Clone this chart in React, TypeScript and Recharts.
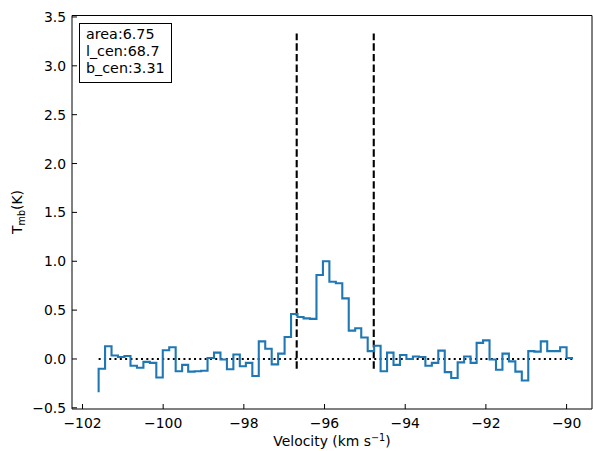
import React from "react";
import {
  ComposedChart,
  Line,
  XAxis,
  YAxis,
  ReferenceLine,
  ReferenceArea,
} from "recharts";

// channel edges (km/s) and main-beam temperature (K), steps drawn "pre"
const velocity = [
  -101.6, -101.44, -101.28, -101.12, -100.96, -100.81, -100.65, -100.49, -100.33, -100.17,
  -100.01, -99.85, -99.69, -99.53, -99.38, -99.22, -99.06, -98.9, -98.74, -98.58,
  -98.42, -98.26, -98.1, -97.95, -97.79, -97.63, -97.47, -97.31, -97.15, -96.99,
  -96.83, -96.67, -96.52, -96.36, -96.2, -96.04, -95.88, -95.72, -95.56, -95.4,
  -95.24, -95.09, -94.93, -94.77, -94.61, -94.45, -94.29, -94.13, -93.97, -93.81,
  -93.66, -93.5, -93.34, -93.18, -93.02, -92.86, -92.7, -92.54, -92.38, -92.23,
  -92.07, -91.91, -91.75, -91.59, -91.43, -91.27, -91.11, -90.95, -90.8, -90.64,
  -90.48, -90.32, -90.16, -90.0, -89.84,
];
const tmb = [
  -0.34, -0.1, 0.13, 0.035, 0.02, 0.03, -0.07, -0.09, -0.03, -0.04,
  -0.19, 0.09, 0.12, -0.125, -0.06, -0.13, -0.125, -0.12, 0.01, 0.065,
  -0.005, -0.105, 0.045, -0.075, -0.04, -0.175, 0.18, 0.105, -0.055, 0.055,
  0.225, 0.46, 0.43, 0.415, 0.41, 0.86, 1.0, 0.79, 0.775, 0.62,
  0.29, 0.315, 0.22, 0.08, 0.135, -0.125, 0.065, -0.06, 0.04, 0.0,
  0.025, 0.02, -0.07, -0.04, 0.085, -0.135, -0.195, -0.035, 0.025, -0.04,
  0.165, 0.19, -0.005, -0.11, 0.055, -0.025, -0.13, -0.22, 0.08, 0.075,
  0.18, 0.08, 0.08, 0.12, 0.01,
];

const xTicks = [-102, -100, -98, -96, -94, -92, -90];
const yTicks = [-0.5, 0, 0.5, 1, 1.5, 2, 2.5, 3, 3.5];
const xDomain = [-102.26, -89.37];
const yDomain = [-0.512, 3.515];

const windowEdges = [-96.69, -94.78];
const windowRange = [-0.1, 3.33];
const baselineRange = [-101.6, -89.84];

const boxLines = ["area:6.75", "l_cen:68.7", "b_cen:3.31"];

const FONT = "'DejaVu Sans', sans-serif";
const BLUE = "#1f77b4";

const fmt = (v: number, digits: number) => {
  const s = Math.abs(v).toFixed(digits);
  return v < 0 ? "\u2212" + s : s;
};

const XTick = ({ x, y, payload }: any) => (
  <g>
    <line x1={x} y1={y} x2={x} y2={y - 5} stroke="#000" strokeWidth={1} />
    <text x={x} y={y + 19} textAnchor="middle" fontSize={13.9} fontFamily={FONT} fill="#000">
      {fmt(payload.value, 0)}
    </text>
  </g>
);

const YTick = ({ x, y, payload }: any) => (
  <g>
    <line x1={x} y1={y} x2={x + 5} y2={y} stroke="#000" strokeWidth={1} />
    <text x={x - 6} y={y + 5} textAnchor="end" fontSize={13.9} fontFamily={FONT} fill="#000">
      {fmt(payload.value, 1)}
    </text>
  </g>
);

export default function App() {
  const data = velocity.map((v, i) => ({ v, t: tmb[i] }));

  return (
    <div style={{ position: "absolute", left: 0, top: 0, width: 593, height: 451, background: "#fff" }}>
      <ComposedChart
        width={593}
        height={451}
        data={data}
        margin={{ top: 15.5, right: 1, bottom: 0, left: 0 }}
      >
        <XAxis
          type="number"
          dataKey="v"
          domain={xDomain}
          ticks={xTicks}
          allowDataOverflow
          axisLine={false}
          tickLine={false}
          tickSize={0}
          tickMargin={0}
          height={42}
          tick={<XTick />}
          label={{
            content: () => (
              <text x={332} y={446} textAnchor="middle" fontSize={13.9} fontFamily={FONT} fill="#000">
                Velocity (km s
                <tspan dy={-5} fontSize={9.7}>{"\u22121"}</tspan>
                <tspan dy={5}>)</tspan>
              </text>
            ),
          }}
        />
        <YAxis
          type="number"
          domain={yDomain}
          ticks={yTicks}
          allowDataOverflow
          axisLine={false}
          tickLine={false}
          tickSize={0}
          tickMargin={0}
          width={72}
          tick={<YTick />}
          label={{
            content: () => (
              <text
                x={22}
                y={212}
                transform="rotate(-90 22 212)"
                textAnchor="middle"
                fontSize={13.9}
                fontFamily={FONT}
                fill="#000"
              >
                T
                <tspan dy={3} fontSize={9.7}>mb</tspan>
                <tspan dy={-3}>(K)</tspan>
              </text>
            ),
          }}
        />
        <ReferenceArea
          x1={xDomain[0]}
          x2={xDomain[1]}
          y1={yDomain[0]}
          y2={yDomain[1]}
          fill="none"
          stroke="#000"
          strokeWidth={1}
          ifOverflow="visible"
        />
        <ReferenceLine
          segment={[
            { x: baselineRange[0], y: 0 },
            { x: baselineRange[1], y: 0 },
          ]}
          stroke="#000"
          strokeWidth={2}
          strokeDasharray="2 3.3"
          ifOverflow="visible"
        />
        {windowEdges.map((e) => (
          <ReferenceLine
            key={e}
            segment={[
              { x: e, y: windowRange[0] },
              { x: e, y: windowRange[1] },
            ]}
            stroke="#000"
            strokeWidth={2.1}
            strokeDasharray="7.4 3.2"
            ifOverflow="visible"
          />
        ))}
        <Line
          type="stepBefore"
          dataKey="t"
          stroke={BLUE}
          strokeWidth={2.1}
          dot={false}
          isAnimationActive={false}
        />
      </ComposedChart>
      <div
        style={{
          position: "absolute",
          left: 79,
          top: 23,
          width: 93,
          height: 60,
          border: "1.3px solid #000",
          fontFamily: FONT,
          fontSize: 14.3,
          lineHeight: "16.7px",
          paddingLeft: 6,
          paddingTop: 2.3,
          boxSizing: "border-box",
          background: "#fff",
        }}
      >
        {boxLines.map((l) => (
          <div key={l}>{l}</div>
        ))}
      </div>
    </div>
  );
}
